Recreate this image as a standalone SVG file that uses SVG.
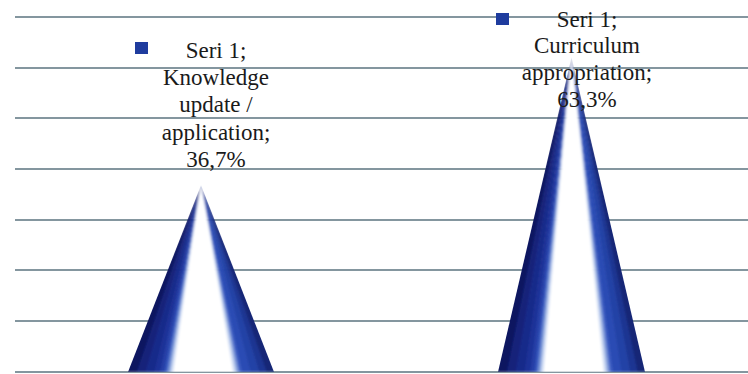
<svg xmlns="http://www.w3.org/2000/svg" width="748" height="374" viewBox="0 0 748 374">
<defs>
<filter id="soft" x="-10%" y="-10%" width="120%" height="120%">
<feGaussianBlur stdDeviation="1"/>
</filter>
<clipPath id="clip1"><polygon points="201,185 128,372 274,372"/></clipPath>
<clipPath id="clip2"><polygon points="571.5,57 498,372 645,372"/></clipPath>
<rect id="key" width="13" height="12" fill="#1f3c9e"/>
<g id="cone">
<polygon points="0,0 -1.05,1 -0.87,1" fill="#0e1860"/>
<polygon points="0,0 -0.88,1 -0.75,1" fill="#13207a"/>
<polygon points="0,0 -0.76,1 -0.63,1" fill="#18298a"/>
<polygon points="0,0 -0.64,1 -0.55,1" fill="#1e3398"/>
<polygon points="0,0 -0.56,1 -0.49,1" fill="#2540a8"/>
<polygon points="0,0 -0.5,1 -0.45,1" fill="#3a5cc0"/>
<polygon points="0,0 -0.46,1 -0.41,1" fill="#7d9ad8"/>
<polygon points="0,0 -0.42,1 -0.37,1" fill="#cfdcf4"/>
<polygon points="0,0 -0.38,1 0.45,1" fill="#ffffff"/>
<polygon points="0,0 0.44,1 0.49,1" fill="#d0ddf4"/>
<polygon points="0,0 0.48,1 0.53,1" fill="#86a0dc"/>
<polygon points="0,0 0.52,1 0.57,1" fill="#3f60c4"/>
<polygon points="0,0 0.56,1 0.69,1" fill="#2c4cb4"/>
<polygon points="0,0 0.68,1 0.81,1" fill="#2442a6"/>
<polygon points="0,0 0.8,1 0.91,1" fill="#1d3592"/>
<polygon points="0,0 0.9,1 1.05,1" fill="#142676"/>
</g>
</defs>
<rect width="748" height="374" fill="#ffffff"/>
<g id="gridlines" stroke="#84969f" stroke-width="2">
<line x1="15" y1="17" x2="748" y2="17"/>
<line x1="15" y1="68" x2="748" y2="68"/>
<line x1="15" y1="118" x2="748" y2="118"/>
<line x1="15" y1="169" x2="748" y2="169"/>
<line x1="15" y1="220" x2="748" y2="220"/>
<line x1="15" y1="270" x2="748" y2="270"/>
<line x1="15" y1="321" x2="748" y2="321"/>
<line x1="15" y1="372" x2="748" y2="372"/>
</g>
<g id="cone-knowledge" clip-path="url(#clip1)">
<g filter="url(#soft)">
<use href="#cone" transform="translate(201,185) scale(73,187)"/>
</g>
</g>
<g id="cone-curriculum" clip-path="url(#clip2)">
<g filter="url(#soft)">
<use href="#cone" transform="translate(571.5,57) scale(73.5,315)"/>
</g>
</g>
<g id="label-knowledge" font-family="Times New Roman, Liberation Serif, serif" font-size="23" fill="#1a1a1a" text-anchor="middle">
<use href="#key" x="135" y="42"/>
<text x="216" y="58">Seri 1;</text>
<text x="216" y="85">Knowledge</text>
<text x="216" y="112">update /</text>
<text x="216" y="140">application;</text>
<text x="216" y="167">36,7%</text>
</g>
<g id="label-curriculum" font-family="Times New Roman, Liberation Serif, serif" font-size="23" fill="#1a1a1a" text-anchor="middle">
<use href="#key" x="496" y="13"/>
<text x="587" y="27">Seri 1;</text>
<text x="587" y="53">Curriculum</text>
<text x="587" y="80">appropriation;</text>
<text x="587" y="107">63,3%</text>
</g>
</svg>
